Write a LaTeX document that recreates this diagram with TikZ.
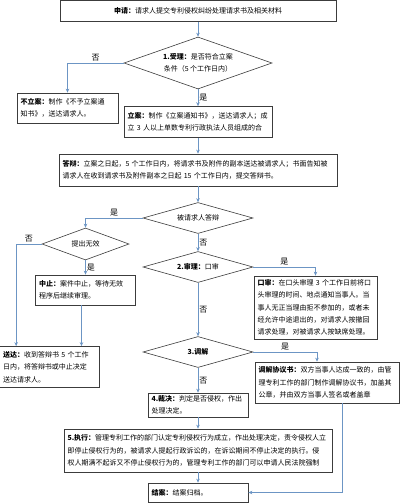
\documentclass[tikz,border=0pt]{standalone}
\usepackage{fontspec}
\setmainfont{Noto Sans CJK SC}
\usetikzlibrary{positioning,arrows.meta,shapes.geometric,shadows}

\definecolor{flowblue}{RGB}{108,149,196}
\definecolor{boxgray}{RGB}{60,60,60}

\tikzset{
  stepbox/.style={draw=boxgray, line width=0.7pt, fill=white, align=left,
    inner xsep=3.5pt, inner ysep=0pt, font=\fontsize{7}{12.3}\selectfont,
    drop shadow={shadow xshift=0.9pt, shadow yshift=-0.9pt, fill=black!55, opacity=0.6}},
  decision/.style={diamond, aspect=3, draw=boxgray, line width=0.6pt, fill=white,
    inner sep=0pt, align=center, font=\fontsize{7}{12.3}\selectfont},
  flow/.style={draw=flowblue, line width=0.8pt, ->},
  yesno/.style={font=\fontsize{8}{8}\selectfont, inner sep=1pt}
}

\begin{document}
\begin{tikzpicture}[
  x=1pt, y=-1pt,
  >={Stealth[length=4pt,width=3.5pt]},
  on grid
]
  \useasboundingbox (0,0) rectangle (400,503);

  % main column
  \node[stepbox, align=center, text width=269pt, minimum height=21pt] (apply) at (198,11)
    {\textbf{申请：}请求人提交专利侵权纠纷处理请求书及相关材料};
  \node[decision, minimum width=148pt, minimum height=52pt, below=52pt of apply] (accept)
    {\textbf{1.受理：}是否符合立案\\条件（5~个工作日内）};
  \node[stepbox, text width=141pt, minimum height=31pt, below=59pt of accept] (file)
    {\textbf{立案：}制作《立案通知书》，送达请求人；成\\立~3~人以上单数专利行政执法人员组成的合};
  \node[stepbox, text width=271pt, minimum height=32pt, below=48pt of file] (reply)
    {\textbf{答辩：}立案之日起，5~个工作日内，将请求书及附件的副本送达被请求人；书面告知被\\请求人在收到请求书及附件副本之日起~15~个工作日内，提交答辩书。};
  \node[decision, minimum width=110pt, minimum height=31pt, below=48pt of reply] (respond)
    {被请求人答辩};
  \node[decision, minimum width=110pt, minimum height=31pt, below=49pt of respond] (hear)
    {\textbf{2.审理：}口审};
  \node[decision, minimum width=110pt, minimum height=31pt, below=85pt of hear] (mediate)
    {\textbf{3.调解}};
  \node[stepbox, text width=93pt, minimum height=24pt, below=53pt of mediate] (judge)
    {\textbf{4.裁决：}判定是否侵权，作出\\处理决定。};
  \node[stepbox, text width=261pt, minimum height=43pt, below=45.5pt of judge] (execute)
    {\textbf{5.执行：}管理专利工作的部门认定专利侵权行为成立，作出处理决定，责令侵权人立\\即停止侵权行为的，被请求人提起行政诉讼的，在诉讼期间不停止决定的执行。侵\\权人期满不起诉又不停止侵权行为的，管理专利工作的部门可以申请人民法院强制};
  \node[stepbox, text width=93pt, minimum height=19pt, below=42pt of execute] (close)
    {\textbf{结案：}结案归档。};

  % side branches
  \node[stepbox, text width=94pt, minimum height=30pt, below left=45pt and 130.5pt of accept] (reject)
    {\textbf{不立案：}制作《不予立案通\\知书》，送达请求人。};
  \node[decision, minimum width=87pt, minimum height=32pt, below left=26pt and 112.5pt of respond] (invalid)
    {提出无效};
  \node[stepbox, text width=93pt, minimum height=30pt, below=46pt of invalid] (suspend)
    {\textbf{中止：}案件中止，等待无效\\程序后继续审理。};
  \node[stepbox, text width=93pt, minimum height=41pt, below left=77pt and 36pt of suspend] (deliver)
    {\textbf{送达：}收到答辩书~5~个工作\\日内，将答辩书或中止决定\\送达请求人。};
  \node[stepbox, text width=116pt, minimum height=63pt, below right=40.5pt and 117.5pt of hear] (oral)
    {\textbf{口审：}在口头审理~3~个工作日前将口\\头审理的时间、地点通知当事人。当\\事人无正当理由拒不参加的，或者未\\经允许中途退出的，对请求人按撤回\\请求处理，对被请求人按缺席处理。};
  \node[stepbox, text width=137pt, minimum height=41pt, below right=30.5pt and 129pt of mediate] (agree)
    {\textbf{调解协议书：}双方当事人达成一致的，由管\\理专利工作的部门制作调解协议书，加盖其\\公章，并由双方当事人签名或者盖章};

  % connectors
  \draw[flow] (apply.south) -- (accept.north);
  \draw[flow] (accept.west) -| node[yesno, pos=0.25, above] {否} (reject.north);
  \draw[flow] (accept.south) -- node[yesno, right] {是} (file.north);
  \draw[flow] (file.south) -- (reply.north);
  \draw[flow] (reply.south) -- (respond.north);
  \draw[flow] (respond.west) -| node[yesno, pos=0.25, above] {是} (invalid.north);
  \draw[flow] (invalid.west) -| node[yesno, pos=0.25, above] {否} ([xshift=17pt]deliver.north west);
  \draw[flow] (invalid.south) -- node[yesno, right] {是} (suspend.north);
  \draw[flow] ([xshift=-4pt]suspend.south) -- ([xshift=-4pt]suspend.south |- deliver.north);
  \draw[flow] (respond.south) -- node[yesno, right] {否} (hear.north);
  \draw[flow] (hear.east) -| node[yesno, pos=0.25, above] {是} (oral.north);
  \draw[flow] (hear.south) -- node[yesno, right] {否} (mediate.north);
  \draw[flow] (mediate.east) -| node[yesno, pos=0.25, above] {是} ([xshift=-10pt]agree.north);
  \draw[flow] (mediate.south) -- node[yesno, right] {否} (judge.north);
  \draw[flow] (judge.south) -- (execute.north);
  \draw[flow] (execute.south) -- (close.north);
  \draw[flow] ([xshift=15pt]agree.south) |- (close.east);
\end{tikzpicture}
\end{document}
